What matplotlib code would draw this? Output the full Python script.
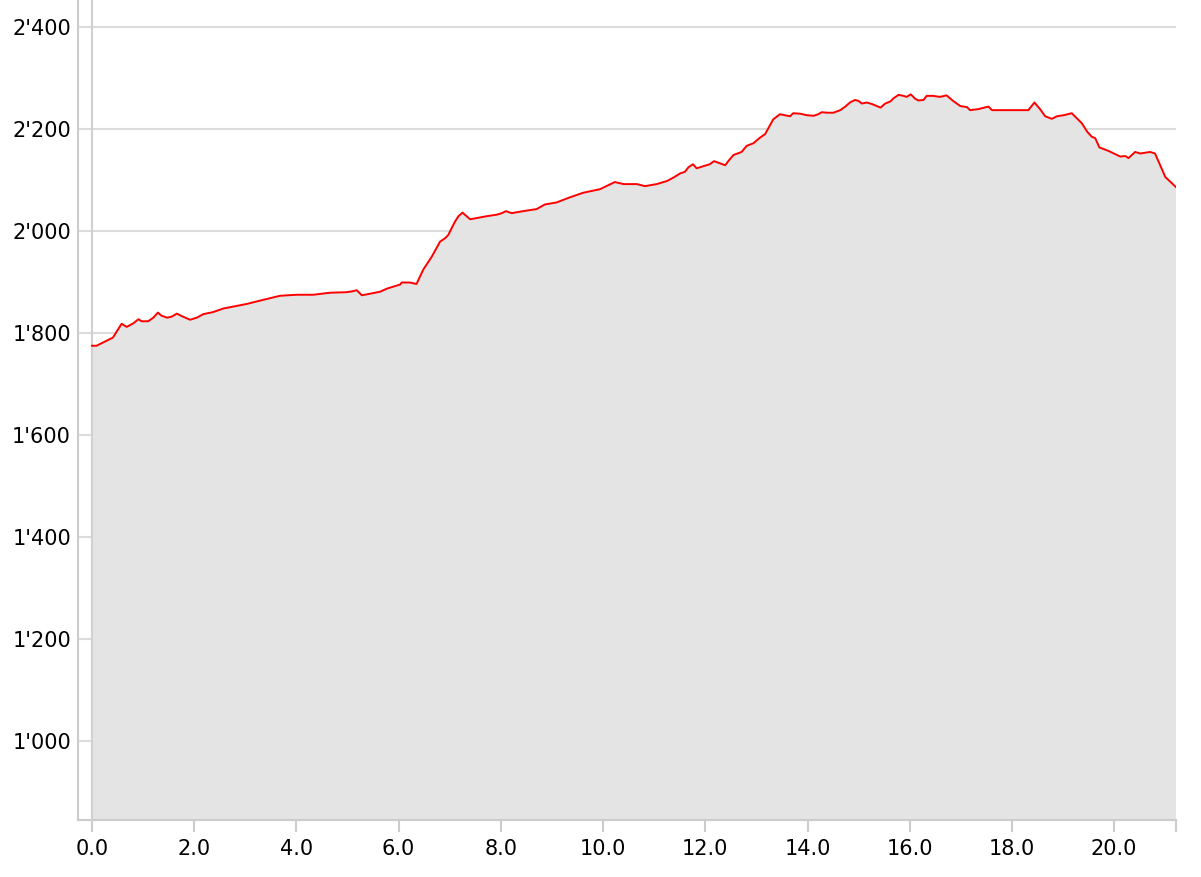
# Elevation profile: distance (km) vs altitude (m)
import matplotlib.pyplot as plt
from matplotlib.ticker import FuncFormatter, MultipleLocator, FixedLocator

dist_km = [0.00, 0.09, 0.41, 0.58, 0.68, 0.81, 0.91, 0.97, 1.10, 1.20,
           1.29, 1.36, 1.47, 1.56, 1.66, 1.76, 1.92, 2.05, 2.18, 2.37,
           2.57, 2.83, 3.03, 3.35, 3.68, 4.01, 4.33, 4.66, 4.98, 5.11,
           5.18, 5.28, 5.44, 5.64, 5.77, 6.03, 6.06, 6.22, 6.35, 6.48,
           6.65, 6.81, 6.91, 6.97, 7.10, 7.17, 7.25, 7.40, 7.72, 7.92,
           8.02, 8.10, 8.21, 8.44, 8.70, 8.86, 9.09, 9.35, 9.61, 9.94,
           10.23, 10.40, 10.66, 10.82, 11.05, 11.25, 11.38, 11.51, 11.60, 11.67,
           11.76, 11.83, 12.09, 12.17, 12.39, 12.45, 12.55, 12.71, 12.81, 12.94,
           13.07, 13.17, 13.27, 13.33, 13.46, 13.56, 13.66, 13.72, 13.86, 13.99,
           14.12, 14.21, 14.28, 14.38, 14.51, 14.64, 14.74, 14.83, 14.93, 15.00,
           15.06, 15.16, 15.26, 15.36, 15.43, 15.52, 15.62, 15.68, 15.78, 15.88,
           15.94, 16.02, 16.11, 16.17, 16.27, 16.33, 16.46, 16.59, 16.72, 16.85,
           16.99, 17.12, 17.18, 17.34, 17.54, 17.61, 17.77, 18.10, 18.32, 18.44,
           18.55, 18.65, 18.78, 18.88, 19.01, 19.17, 19.27, 19.37, 19.47, 19.56,
           19.63, 19.71, 19.89, 20.12, 20.22, 20.28, 20.41, 20.51, 20.70, 20.80,
           21.00, 21.21]
elev_m = [1775, 1775, 1791, 1818, 1812, 1819, 1827, 1823, 1823, 1830,
          1840, 1834, 1830, 1832, 1838, 1833, 1826, 1830, 1837, 1841,
          1848, 1853, 1857, 1865, 1873, 1875, 1875, 1879, 1880, 1882,
          1884, 1874, 1877, 1881, 1887, 1895, 1899, 1899, 1896, 1924,
          1950, 1979, 1986, 1992, 2018, 2029, 2036, 2023, 2029, 2032,
          2035, 2039, 2035, 2039, 2043, 2052, 2056, 2066, 2075, 2082,
          2096, 2092, 2092, 2088, 2092, 2098, 2105, 2113, 2116, 2125,
          2131, 2123, 2131, 2137, 2129, 2137, 2149, 2155, 2167, 2172,
          2183, 2190, 2208, 2219, 2229, 2227, 2225, 2231, 2230, 2227,
          2226, 2229, 2233, 2232, 2232, 2237, 2244, 2252, 2257, 2255,
          2250, 2252, 2249, 2245, 2242, 2250, 2254, 2260, 2267, 2265,
          2263, 2268, 2259, 2256, 2257, 2265, 2265, 2263, 2266, 2255,
          2245, 2243, 2237, 2239, 2244, 2237, 2237, 2237, 2237, 2252,
          2239, 2225, 2220, 2225, 2227, 2231, 2221, 2211, 2195, 2185,
          2182, 2164, 2157, 2146, 2147, 2143, 2155, 2152, 2155, 2152,
          2106, 2086]

y_ticks = [1000, 1200, 1400, 1600, 1800, 2000, 2200, 2400]

fig = plt.figure(figsize=(12.01, 8.77), dpi=100)
ax = fig.add_axes([0.0649, 0.065, 0.9143, 0.935])

ax.fill_between(dist_km, elev_m, 0, color='#e4e4e4', lw=0, zorder=2)
ax.plot(dist_km, elev_m, color='#ff0000', lw=1.4, zorder=4)
ax.axvline(0, color='#d0d0d0', lw=1.5, zorder=3)

ax.set_xlim(-0.274, dist_km[-1])
ax.set_ylim(845, 2453)

ax.xaxis.set_major_locator(MultipleLocator(2))
ax.xaxis.set_minor_locator(FixedLocator([dist_km[-1]]))
ax.xaxis.set_major_formatter(FuncFormatter(lambda v, p: '%.1f' % v))
ax.yaxis.set_major_locator(FixedLocator(y_ticks))
ax.yaxis.set_major_formatter(
    FuncFormatter(lambda v, p: '{:,.0f}'.format(v).replace(',', "'")))

ax.grid(axis='y', color='#dcdcdc', lw=1.5, zorder=1)
ax.set_axisbelow(True)

for s in ['top', 'right']:
    ax.spines[s].set_visible(False)
for s in ['left', 'bottom']:
    ax.spines[s].set_color('#cccccc')
    ax.spines[s].set_linewidth(1.5)

ax.tick_params(axis='x', which='both', length=8.5, width=1.5,
               color='#cccccc', pad=5, labelsize=15)
ax.tick_params(axis='y', length=0, pad=5, labelsize=15)

plt.savefig('out.png', dpi=100)
